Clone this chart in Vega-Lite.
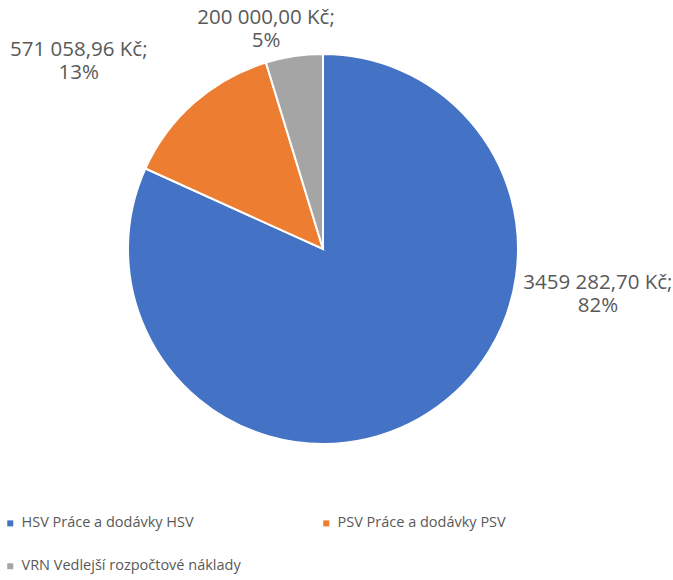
{
  "$schema": "https://vega.github.io/schema/vega-lite/v6.json",
  "width": 646,
  "height": 498,
  "autosize": {"type": "none"},
  "padding": {"left": 0, "top": 0, "right": 27, "bottom": 82},
  "background": "white",
  "config": {"view": {"stroke": null}, "font": "Open Sans"},
  "data": {
    "values": [
      {"cat": "HSV Práce a dodávky HSV", "value": 3459282.70, "idx": 1},
      {"cat": "PSV Práce a dodávky PSV", "value": 571058.96, "idx": 2},
      {"cat": "VRN Vedlejší rozpočtové náklady", "value": 200000.00, "idx": 3}
    ]
  },
  "encoding": {
    "theta": {"field": "value", "type": "quantitative", "stack": true},
    "order": {"field": "idx", "type": "quantitative"}
  },
  "layer": [
    {
      "mark": {"type": "arc", "outerRadius": 195, "stroke": "white", "strokeWidth": 2},
      "encoding": {
        "color": {
          "field": "cat", "type": "nominal",
          "scale": {"domain": ["HSV Práce a dodávky HSV", "PSV Práce a dodávky PSV", "VRN Vedlejší rozpočtové náklady"], "range": ["#4472C4", "#ED7D31", "#A5A5A5"]},
          "legend": {
            "title": null, "orient": "none", "direction": "horizontal", "legendX": 3, "legendY": 516, "columns": 2, "padding": 0,
            "symbolType": "square", "symbolSize": 36, "symbolStrokeWidth": 0,
            "labelFont": "Open Sans", "labelFontSize": 14.5, "labelColor": "#595959",
            "labelOffset": 4, "columnPadding": 78, "rowPadding": 28, "labelLimit": 400
          }
        }
      }
    },
    {
      "mark": {"type": "text", "radius": 277, "thetaOffset": -0.875, "fontSize": 20.5, "color": "#595959", "lineHeight": 23, "baseline": "middle", "align": "center"},
      "encoding": {"text": {"condition": {"test": "datum.idx == 1", "value": ["3459 282,70 Kč;", "82%"]}, "value": ""}}
    },
    {
      "mark": {"type": "text", "radius": 315, "thetaOffset": -0.166, "fontSize": 20.5, "color": "#595959", "lineHeight": 23, "baseline": "middle", "align": "center"},
      "encoding": {"text": {"condition": {"test": "datum.idx == 2", "value": ["571 058,96 Kč;", "13%"]}, "value": ""}}
    },
    {
      "mark": {"type": "text", "radius": 238, "thetaOffset": -0.093, "fontSize": 20.5, "color": "#595959", "lineHeight": 23, "baseline": "middle", "align": "center"},
      "encoding": {"text": {"condition": {"test": "datum.idx == 3", "value": ["200 000,00 Kč;", "5%"]}, "value": ""}}
    }
  ]
}
